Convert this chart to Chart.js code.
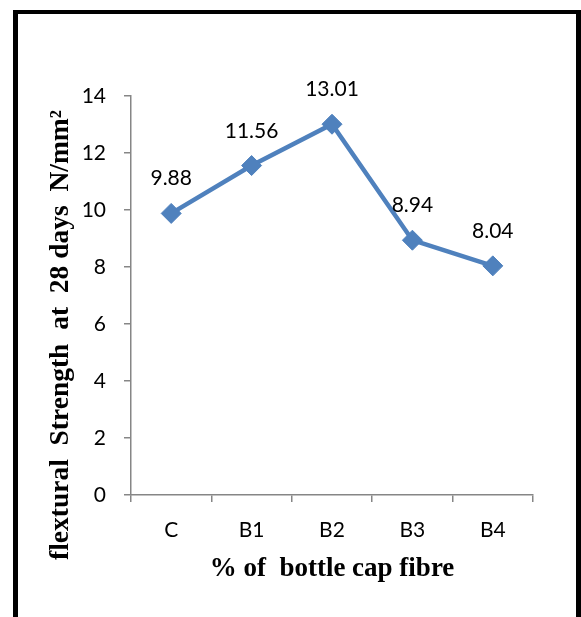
<!DOCTYPE html>
<html>
<head>
<meta charset="utf-8">
<script src="https://cdn.jsdelivr.net/npm/chart.js@4.4.1/dist/chart.umd.min.js"></script>
<style>
  html, body { margin: 0; padding: 0; background: #fff; overflow: hidden; }
  #wrap { position: relative; width: 581px; height: 617px; }
  #frame {
    position: absolute; left: 13px; top: 10px; width: 568px; height: 650px;
    box-sizing: border-box; border: solid #000; border-width: 4px 5px 0 5px;
  }
  canvas { position: absolute; left: 0; top: 0; }
</style>
</head>
<body>
<div id="wrap">
  <div id="frame"></div>
  <canvas id="c" width="581" height="617"></canvas>
</div>
<script>
// Flexural strength at 28 days for each bottle-cap fibre mix
const categories = ['C', 'B1', 'B2', 'B3', 'B4'];
const strength = [9.88, 11.56, 13.01, 8.94, 8.04];
const yTicks = [0, 2, 4, 6, 8, 10, 12, 14];
const yTitle = 'flextural  Strength  at  28 days  N/mm\u00B2';
const xTitle = '% of  bottle cap fibre';

const lineBlue = '#4F81BD';
const axisGrey = '#868686';
const tickFont = { family: 'Lato', size: 21 };
const xTitleFont = 'bold 27px "Liberation Serif", "Times New Roman", serif';
const yTitleFont = 'bold 27.5px "Liberation Serif", "Times New Roman", serif';

// value labels above each marker
const valueLabels = {
  id: 'valueLabels',
  afterDatasetsDraw(chart) {
    const ctx = chart.ctx;
    const meta = chart.getDatasetMeta(0);
    ctx.save();
    ctx.font = '21px Lato';
    ctx.fillStyle = '#000';
    ctx.textAlign = 'center';
    ctx.textBaseline = 'alphabetic';
    meta.data.forEach((pt, i) => {
      ctx.fillText(strength[i].toFixed(2), pt.x, pt.y - 28);
    });
    ctx.restore();
  }
};

// axis titles in bold serif
const axisTitles = {
  id: 'axisTitles',
  afterDraw(chart) {
    const ctx = chart.ctx;
    const area = chart.chartArea;
    ctx.save();
    ctx.fillStyle = '#000';
    ctx.textAlign = 'center';
    ctx.textBaseline = 'alphabetic';
    ctx.font = xTitleFont;
    ctx.fillText(xTitle, (area.left + area.right) / 2, area.bottom + 81);
    ctx.font = yTitleFont;
    ctx.translate(68, area.bottom - 160);
    ctx.rotate(-Math.PI / 2);
    ctx.fillText(yTitle, 0, 0);
    ctx.restore();
  }
};

new Chart(document.getElementById('c'), {
  type: 'line',
  data: {
    labels: categories,
    datasets: [{
      data: strength,
      borderColor: lineBlue,
      backgroundColor: lineBlue,
      borderWidth: 4.5,
      tension: 0,
      pointStyle: 'rectRot',
      pointRadius: 10,
      pointBorderWidth: 1,
      pointBackgroundColor: lineBlue,
      pointBorderColor: lineBlue
    }]
  },
  options: {
    responsive: false,
    animation: false,
    events: [],
    layout: { padding: { left: 0, top: 96, right: 48, bottom: 0 } },
    plugins: {
      legend: { display: false },
      tooltip: { enabled: false }
    },
    scales: {
      x: {
        offset: true,
        grid: { offset: true, drawOnChartArea: false, drawTicks: true, tickLength: 7, color: axisGrey, lineWidth: 1.5 },
        border: { color: axisGrey, width: 1.5 },
        ticks: { font: tickFont, color: '#000', padding: 16, maxRotation: 0 },
        afterFit(scale) { scale.height = 122; }
      },
      y: {
        min: 0,
        max: 14,
        afterBuildTicks(scale) { scale.ticks = yTicks.map(v => ({ value: v })); },
        grid: { drawOnChartArea: false, drawTicks: true, tickLength: 7, color: axisGrey, lineWidth: 1.5 },
        border: { color: axisGrey, width: 1.5 },
        ticks: { font: tickFont, color: '#000', padding: 18 },
        afterFit(scale) { scale.width = 131; }
      }
    }
  },
  plugins: [valueLabels, axisTitles]
});
</script>
</body>
</html>
